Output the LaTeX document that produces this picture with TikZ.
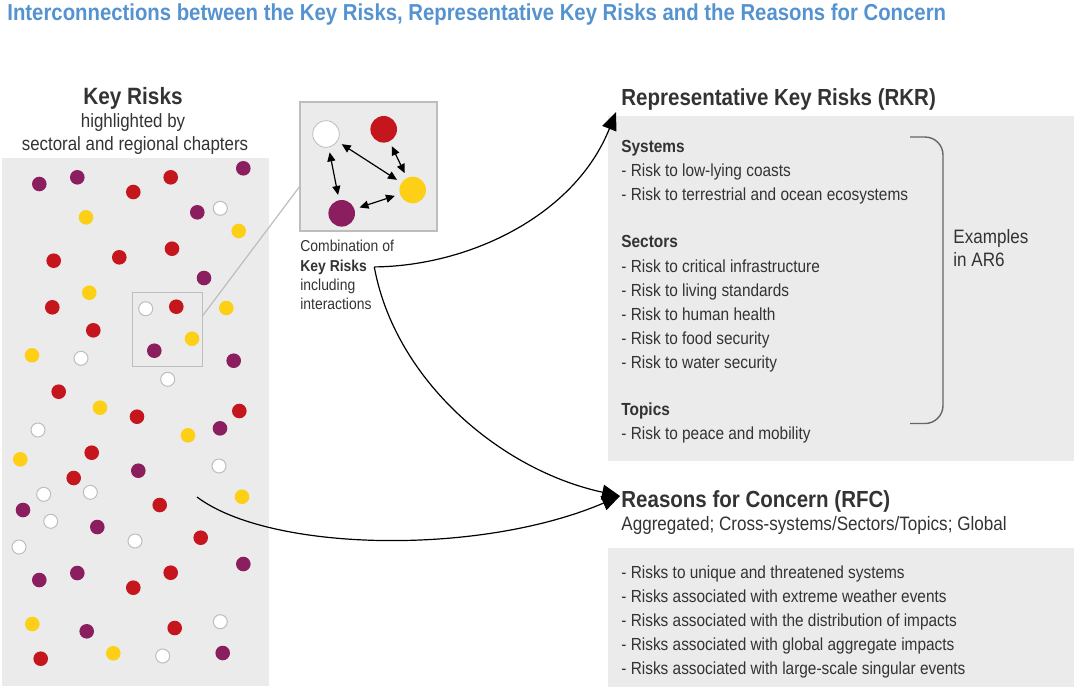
\documentclass[tikz,border=0pt]{standalone}
\usepackage{fontspec}
\setmainfont{Liberation Sans}[FakeStretch=0.88]
\usetikzlibrary{arrows.meta,calc}
\definecolor{bgray}{HTML}{EBEBEB}
\definecolor{lgray}{HTML}{BDBDBD}
\definecolor{txt}{HTML}{333333}
\definecolor{brgray}{HTML}{666666}
\definecolor{titleblue}{HTML}{5592D0}
\definecolor{dred}{HTML}{C4161C}
\definecolor{dpurple}{HTML}{8A1E5E}
\definecolor{dyellow}{HTML}{FDD017}
\newcommand\myfs[1]{\fontsize{#1}{#1}\selectfont}
\tikzset{
  lbl/.style={anchor=base west, inner sep=0, text=txt, font=\myfs{8.75}},
  hdr/.style={anchor=base west, inner sep=0, text=txt, font=\myfs{11.65}\bfseries},
  panel/.style={fill=bgray, draw=none},
  dotr/.style={fill=dred},
  dotp/.style={fill=dpurple},
  doty/.style={fill=dyellow},
  dotw/.style={fill=white, draw=lgray, line width=0.5pt},
  bigball/.style={circle, minimum size=13.3pt, inner sep=0},
  dbl/.style={{Triangle[length=4.5pt,width=4pt]}-{Triangle[length=4.5pt,width=4pt]}, line width=0.6pt, shorten <=2.5pt, shorten >=2.5pt},
  flow/.style={-{Triangle[length=9pt,width=7.5pt]}, line width=0.6pt},
  combtxt/.style={anchor=base west, inner sep=0, text=txt, font=\myfs{7.9}}
}
\begin{document}
\begin{tikzpicture}[x=0.5pt,y=-0.5pt]
\useasboundingbox (0,0) rectangle (1075,687);
% title
\node[anchor=base west, inner sep=0, text=titleblue, font=\myfs{11.55}\bfseries] (title) at (7,20) {Interconnections between the Key Risks, Representative Key Risks and the Reasons for Concern};
% left panel
\fill[panel] (2,158) rectangle (269,686);
\node[anchor=base, inner sep=0, text=txt, font=\myfs{11.8}\bfseries] (kr) at (133,104) {Key Risks};
\node[anchor=base, inner sep=0, text=txt, font=\myfs{9.6}] (kr2) at (133,127) {highlighted by};
\node[anchor=base, inner sep=0, text=txt, font=\myfs{9.6}] (kr3) at (135,150) {sectoral and regional chapters};
% dots
\foreach \x/\y in {170.7/177.3,133.3/192,53.7/260.7,119.3/257.3,172/248.7,52.3/307.3,176.3/306.7,93.3/330.3,58.7/391.7,137/416.7,239.3/411,91.7/452.7,73.7/478,159.7/505,200.7/537.7,170.7/572.7,133.3/587.7,174.7/628,40.7/658.7}
  \fill[dotr] (\x,\y) circle (7.3);
\foreach \x/\y in {39.3/184,77.3/177.3,243.3/168.3,197.3/212.3,204/278,154.3/350.7,233.7/360.7,220/428.3,138.3/470.7,23/510,97.3/527,243.3/564,39.3/580,77.3/573,86.7/631.3,222.7/653}
  \fill[dotp] (\x,\y) circle (7.3);
\foreach \x/\y in {86/217.3,238.7/231,89.3/292.7,226.3/308,192/338.7,32/355.3,100/407.7,188/435.3,20.3/459.3,242/496.7,32.3/624,113.3/653.3}
  \fill[doty] (\x,\y) circle (7.3);
\foreach \x/\y in {220.3/208.3,145.7/308.7,81/358.3,167.7/379.3,38/430,219/466,43.7/494.3,90.3/492.3,50.7/521.3,19/547,135/541,220.3/621.7,162.7/656}
  \draw[dotw] (\x,\y) circle (7);
% zoom box and link
\draw[lgray, line width=0.6pt] (132.3,292.3) rectangle (202.7,366.3);
\node[draw=lgray, fill=bgray, line width=0.6pt, inner sep=0, minimum width=68.5pt, minimum height=64.5pt] (combo) at (368.5,166.5) {};
\coordinate (zb) at (202.7,315.7);
\coordinate (cb) at (300,186);
\draw[lgray, line width=0.6pt] (zb) -- (cb);
% combination balls
\node[bigball, fill=white, draw=lgray, line width=0.4pt] (cw) at (326,134) {};
\node[bigball, fill=dred] (cr) at (383.7,129.3) {};
\node[bigball, fill=dyellow] (cy) at (412.7,190) {};
\node[bigball, fill=dpurple] (cp) at (341.7,213.3) {};
\draw[dbl] (cw) -- (cp);
\draw[dbl] (cw) -- (cy);
\draw[dbl] (cr) -- (cy);
\draw[dbl] (cp) -- (cy);
% combination label
\node[combtxt] (cl1) at (300,251.7) {Combination of};
\node[combtxt, font=\myfs{7.9}\bfseries] (cl2) at (300,271) {Key Risks};
\node[combtxt] (cl3) at (300,290) {including};
\node[combtxt] (cl4) at (300,309) {interactions};
% RKR
\node[hdr] (rkrt) at (621,105) {Representative Key Risks (RKR)};
\fill[panel] (608,116) rectangle (1074,461);
\node[lbl, font=\myfs{8.75}\bfseries] (sys) at (621,152.5) {Systems};
\node[lbl] (s1) at (621,176.5) {- Risk to low-lying coasts};
\node[lbl] (s2) at (621,200.5) {- Risk to terrestrial and ocean ecosystems};
\node[lbl, font=\myfs{8.75}\bfseries] (sec) at (621,247.5) {Sectors};
\node[lbl] (e1) at (621,272.5) {- Risk to critical infrastructure};
\node[lbl] (e2) at (621,296.5) {- Risk to living standards};
\node[lbl] (e3) at (621,320.5) {- Risk to human health};
\node[lbl] (e4) at (621,344.5) {- Risk to food security};
\node[lbl] (e5) at (621,368.5) {- Risk to water security};
\node[lbl, font=\myfs{8.75}\bfseries] (top) at (621,415.5) {Topics};
\node[lbl] (t1) at (621,439.5) {- Risk to peace and mobility};
% bracket
\draw[brgray, line width=0.7pt, rounded corners=9pt] (910,137) -- (943,137) -- (943,423.5) -- (910,423.5);
\node[lbl, font=\myfs{9.7}] (ex1) at (953,243.5) {Examples};
\node[lbl, font=\myfs{9.7}] (ex2) at (953,266) {in AR6};
% RFC
\node[hdr] (rfct) at (621,507.3) {Reasons for Concern (RFC)};
\node[lbl, font=\myfs{9.7}] (rfcs) at (621,530) {Aggregated; Cross-systems/Sectors/Topics; Global};
\fill[panel] (608,548) rectangle (1074,687);
\node[lbl] (r1) at (621,578.5) {- Risks to unique and threatened systems};
\node[lbl] (r2) at (621,602.5) {- Risks associated with extreme weather events};
\node[lbl] (r3) at (621,626.5) {- Risks associated with the distribution of impacts};
\node[lbl] (r4) at (621,650.5) {- Risks associated with global aggregate impacts};
\node[lbl] (r5) at (621,674.5) {- Risks associated with large-scale singular events};
% connectors
\coordinate (kstart) at ($(cl2.east)+(7,0)$);
\coordinate (rkrin) at (616,112);
\coordinate (rfcin) at (620,496);
\coordinate (lstart) at (197,497);
\draw[flow] (kstart) .. controls (470,266) and (575,215) .. (rkrin);
\draw[flow] (kstart) .. controls (395,380) and (500,470) .. (rfcin);
\draw[flow] (lstart) .. controls (270,552) and (480,556) .. (rfcin);
\end{tikzpicture}
\end{document}
